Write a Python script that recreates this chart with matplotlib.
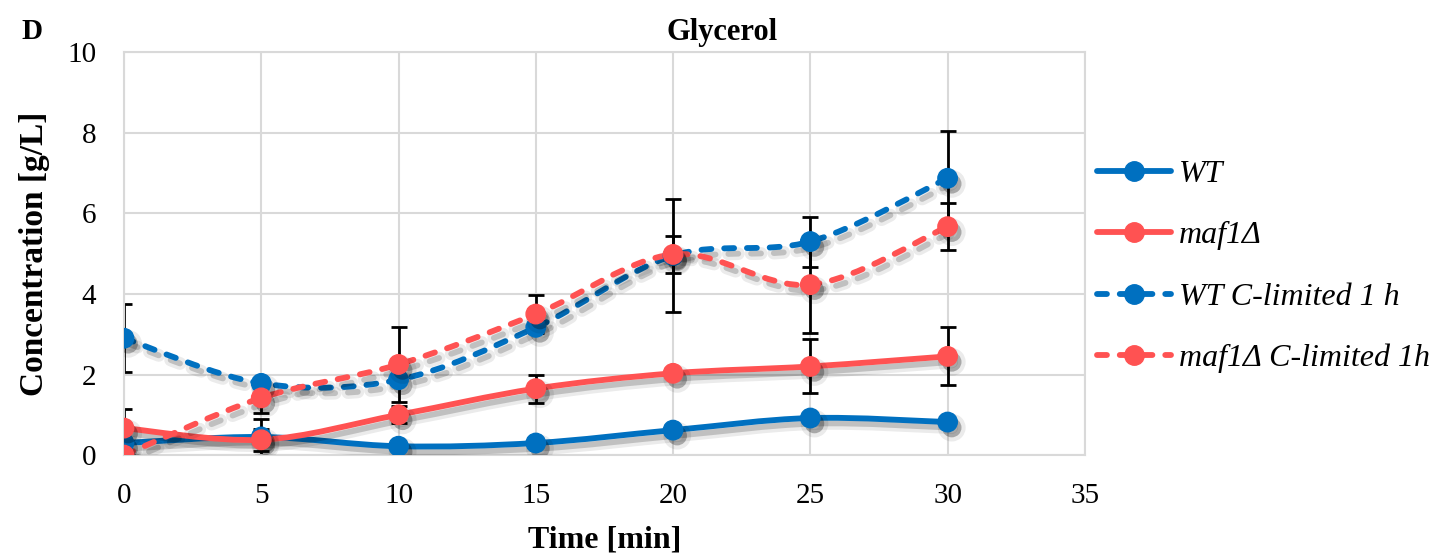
import numpy as np
import matplotlib
matplotlib.use("Agg")
import matplotlib.pyplot as plt
import matplotlib.patheffects as pe
from matplotlib.path import Path
from matplotlib.patches import PathPatch
from matplotlib.lines import Line2D

plt.rcParams['font.family'] = ['Liberation Serif', 'DejaVu Serif']

time = [0, 5, 10, 15, 20, 25, 30]

wt = [0.30, 0.45, 0.22, 0.30, 0.62, 0.92, 0.82]
maf1 = [0.67, 0.38, 1.00, 1.65, 2.03, 2.20, 2.45]
wt_clim = [2.90, 1.78, 1.87, 3.17, 4.95, 5.30, 6.87]
maf1_clim = [0.00, 1.42, 2.25, 3.50, 4.98, 4.23, 5.67]

wt_err = [0.0, 0.44, 0.0, 0.0, 0.0, 0.0, 0.0]
maf1_err = [0.47, 0.27, 0.21, 0.35, 0.10, 0.67, 0.72]
wt_clim_err = [0.85, 0.0, 0.0, 0.0, 1.40, 0.62, 1.17]
maf1_clim_err = [0.0, 0.38, 0.92, 0.47, 0.46, 1.20, 0.58]

labels = ["WT", "maf1Δ", "WT C-limited 1 h", "maf1Δ C-limited 1h"]

blue = "#0070C0"
red = "#FF5252"
LW = 4.2
MS = 14


def smooth_path(x, y):
    # bezier segments like excel "smoothed line"
    x = np.asarray(x, float)
    y = np.asarray(y, float)
    px = np.concatenate([[x[0]], x, [x[-1]]])
    py = np.concatenate([[y[0]], y, [y[-1]]])
    verts = [(x[0], y[0])]
    codes = [Path.MOVETO]
    for i in range(1, len(x)):
        c1 = (px[i] + (px[i + 1] - px[i - 1]) / 6, py[i] + (py[i + 1] - py[i - 1]) / 6)
        c2 = (px[i + 1] - (px[i + 2] - px[i]) / 6, py[i + 1] - (py[i + 2] - py[i]) / 6)
        verts += [c1, c2, (x[i], y[i])]
        codes += [Path.CURVE4] * 3
    return Path(verts, codes)


fig = plt.figure(figsize=(14.35, 5.55), dpi=100)
ax = fig.add_axes([0.0864, 0.18, 0.6696, 0.726])

line_shadow = [pe.SimpleLineShadow(offset=(3, -4), shadow_color='black', alpha=0.08, linewidth=LW * 2.2),
               pe.SimpleLineShadow(offset=(3, -4), shadow_color='black', alpha=0.18),
               pe.Normal()]
mark_shadow = [pe.SimplePatchShadow(offset=(3, -4), shadow_rgbFace='black', alpha=0.08,
                                    linewidth=6, foreground='black'),
               pe.SimplePatchShadow(offset=(3, -4), shadow_rgbFace='black', alpha=0.22),
               pe.Normal()]

dash = (0, (1.7, 2.2))
series = [
    (wt, wt_err, blue, '-'),
    (maf1, maf1_err, red, '-'),
    (wt_clim, wt_clim_err, blue, dash),
    (maf1_clim, maf1_clim_err, red, dash),
]

for (vals, err, col, ls), lab in zip(series, labels):
    e = np.array(err)
    m = e > 0
    ax.errorbar(np.array(time)[m], np.array(vals)[m], yerr=e[m], fmt='none',
                ecolor='black', elinewidth=2, capsize=6, capthick=2, zorder=2)
    patch = PathPatch(smooth_path(time, vals), facecolor='none', edgecolor=col,
                      linewidth=LW, linestyle=ls, capstyle='round', zorder=3)
    patch.set_path_effects(line_shadow)
    ax.add_patch(patch)
    ln, = ax.plot(time, vals, linestyle='none', marker='o', markersize=MS,
                  color=col, zorder=4, label=lab)
    ln.set_path_effects(mark_shadow)

handles = [Line2D([0], [0], color=c, linestyle=ls, linewidth=LW, marker='o', markersize=MS,
                  dash_capstyle='round', solid_capstyle='round')
           for _, _, c, ls in series]
ax.legend(handles, labels, loc='center left', bbox_to_anchor=(0.983, 0.468),
          frameon=False, prop={'family': 'Liberation Serif', 'style': 'italic', 'size': 23},
          handlelength=2.3, labelspacing=1.0, handletextpad=0.25)

ax.set_xlim(0, 35)
ax.set_ylim(0, 10)
ax.set_xticks([0, 5, 10, 15, 20, 25, 30, 35])
ax.set_yticks([0, 2, 4, 6, 8, 10])
ax.tick_params(length=0, labelsize=21)
ax.tick_params(axis='x', pad=20)
ax.tick_params(axis='y', pad=20)
ax.grid(True, color='#d9d9d9', linewidth=1.5)
ax.set_axisbelow(True)
for s in ax.spines.values():
    s.set_color('#d9d9d9')
    s.set_linewidth(1.5)

ax.set_xlabel("Time [min]", fontsize=23, fontweight='bold', labelpad=12)
ax.set_ylabel("Concentration [g/L]", fontsize=24, fontweight='bold', labelpad=12)
fig.text(0.503, 0.942, "Glycerol", fontsize=22, fontweight='bold', ha='center', va='center')
fig.text(0.015, 0.93, "D", fontsize=21, fontweight='bold')

fig.savefig("out.png", dpi=100)
